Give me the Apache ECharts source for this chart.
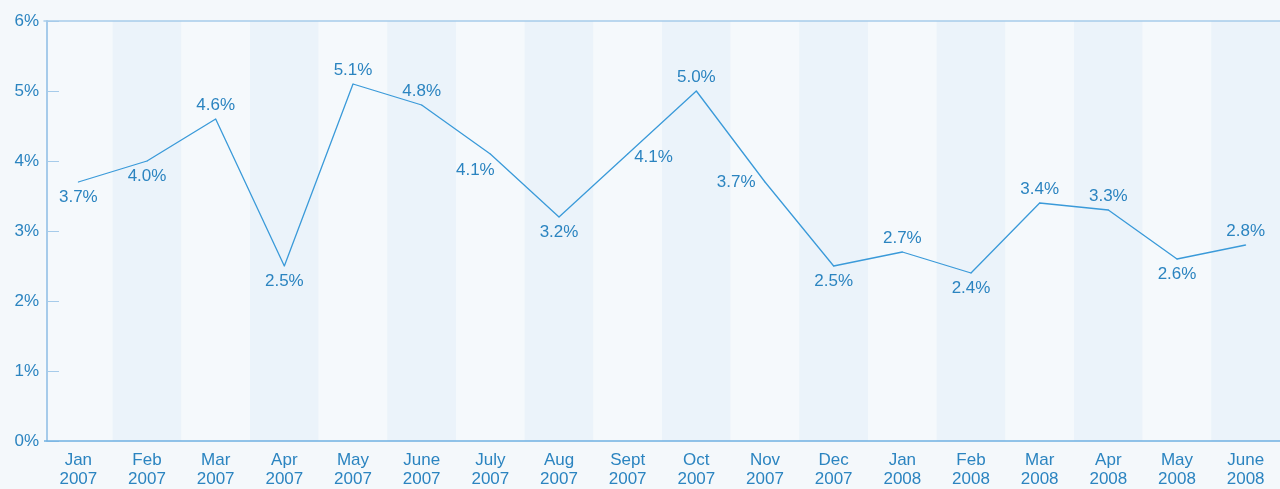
<!DOCTYPE html>
<html>
<head>
<meta charset="utf-8">
<script src="https://cdn.jsdelivr.net/npm/echarts@6/dist/echarts.min.js"></script>
<style>
  html, body { margin: 0; padding: 0; background: #f4f8fb; }
  #main { width: 1280px; height: 489px; }
</style>
</head>
<body>
<div id="main"></div>
<script>
var months = ['Jan', 'Feb', 'Mar', 'Apr', 'May', 'June', 'July', 'Aug', 'Sept', 'Oct', 'Nov', 'Dec',
              'Jan', 'Feb', 'Mar', 'Apr', 'May', 'June'];
var years = ['2007', '2007', '2007', '2007', '2007', '2007', '2007', '2007', '2007', '2007', '2007', '2007',
             '2008', '2008', '2008', '2008', '2008', '2008'];
var rates = [3.7, 4.0, 4.6, 2.5, 5.1, 4.8, 4.1, 3.2, 4.1, 5.0, 3.7, 2.5, 2.7, 2.4, 3.4, 3.3, 2.6, 2.8];
var yTicks = [0, 1, 2, 3, 4, 5, 6];

// where each value label sits relative to its point
var labelSpots = ['bottom', 'bottom', 'top', 'bottom', 'top', 'top', 'leftBelow', 'bottom', 'right', 'top',
                  'left', 'bottom', 'top', 'bottom', 'top', 'top', 'bottom', 'top'];

var textColor = '#2b84c0';
var lineColor = '#3a9ad9';
var paleLine = '#a6cbea';

var categories = months.map(function (m, i) { return m + '\n' + years[i]; });

var seriesData = rates.map(function (v, i) {
    var spot = labelSpots[i];
    var label = { position: spot, distance: 5 };
    if (spot === 'bottom') label.distance = 6;
    if (spot === 'leftBelow') { label.position = 'inside'; label.offset = [-15, 16]; }
    if (spot === 'right') { label.distance = 6; label.offset = [0, 3]; }
    if (spot === 'left') label.distance = 9;
    return { value: v, label: label };
});

var chart = echarts.init(document.getElementById('main'));
chart.setOption({
    backgroundColor: '#f4f8fb',
    animation: false,
    textStyle: { fontFamily: 'Liberation Sans, Arial, sans-serif' },
    grid: { left: 44, top: 21, width: 1246, height: 420 },
    xAxis: [{
        type: 'category',
        data: categories,
        boundaryGap: true,
        axisLine: { show: false },
        axisTick: { show: false },
        axisLabel: {
            interval: 0, color: textColor, fontSize: 17, lineHeight: 19, margin: 10
        },
        splitLine: { show: false },
        splitArea: { show: true, areaStyle: { color: ['#f5f9fc', '#ebf3fa'] } }
    }, {
        // plain rule along the top edge at 6%
        type: 'category',
        position: 'top',
        data: categories,
        axisLine: { show: true, lineStyle: { color: paleLine, width: 1.5 } },
        axisTick: { show: false },
        axisLabel: { show: false }
    }],
    yAxis: {
        type: 'value',
        min: yTicks[0],
        max: yTicks[yTicks.length - 1],
        interval: 1,
        offset: -3,
        axisLine: { show: true, lineStyle: { color: paleLine, width: 2 } },
        axisTick: { show: true, inside: true, length: 12, lineStyle: { color: paleLine, width: 1 } },
        axisLabel: {
            color: textColor, fontSize: 17, margin: 8,
            formatter: function (v) { return v + '%'; }
        },
        splitLine: { show: false }
    },
    series: [{
        type: 'line',
        data: seriesData,
        symbol: 'circle',
        symbolSize: 1,
        itemStyle: { color: lineColor },
        lineStyle: { color: lineColor, width: 1.3 },
        label: {
            show: true, color: textColor, fontSize: 17,
            formatter: function (p) { return p.value.toFixed(1) + '%'; }
        },
        // baseline rule at 0%
        markLine: {
            silent: true,
            symbol: 'none',
            label: { show: false },
            lineStyle: { color: '#6fb0e2', width: 1.5, type: 'solid' },
            data: [{ yAxis: 0 }]
        }
    }]
});
</script>
</body>
</html>
